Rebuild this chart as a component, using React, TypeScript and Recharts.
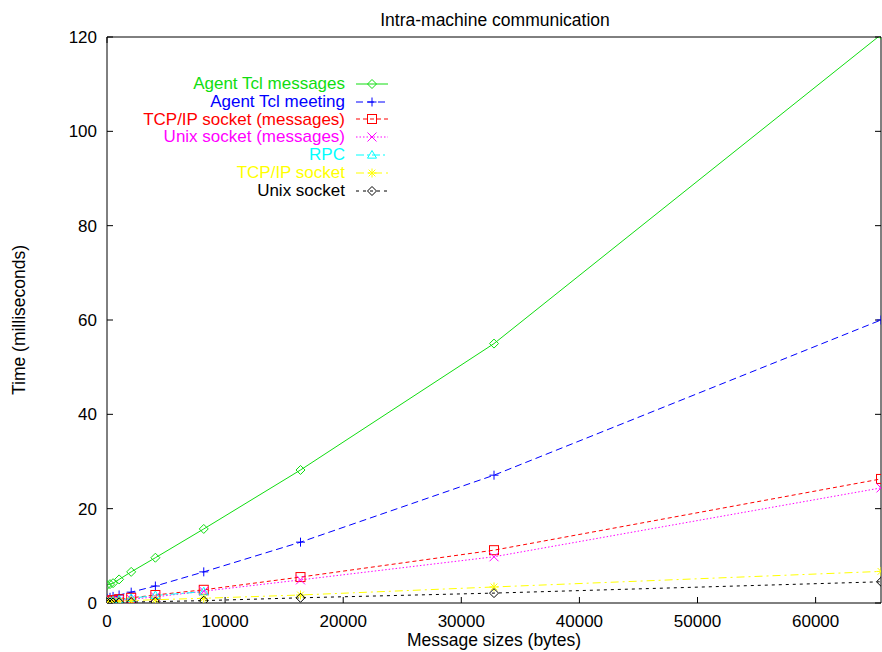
import React from "react";
import { LineChart, Line, XAxis, YAxis, Legend } from "recharts";

// message sizes in bytes
const sizes = [1, 256, 512, 1024, 2048, 4096, 8192, 16384, 32768, 65536];

// times in milliseconds
const agentMessages = [3.8, 4.0, 4.2, 5.0, 6.6, 9.6, 15.7, 28.2, 55.0, 120.5];
const agentMeeting = [1.0, 1.2, 1.4, 1.7, 2.3, 3.6, 6.6, 12.9, 27.1, 60.0];
const tcpMessages = [0.4, 0.5, 0.6, 0.8, 1.1, 1.7, 2.8, 5.5, 11.2, 26.3];
const unixMessages = [0.25, 0.3, 0.4, 0.5, 0.8, 1.3, 2.5, 4.9, 9.8, 24.4];
const rpc = [0.3, 0.4, 0.5, 0.7, 1.0, 1.6, 2.4, null, null, null];
const tcpSocket = [0.3, 0.3, 0.35, 0.4, 0.5, 0.7, 1.0, 1.7, 3.4, 6.7];
const unixSocket = [0.1, 0.1, 0.12, 0.15, 0.2, 0.3, 0.5, 1.1, 2.1, 4.5];

const xTicks = [0, 10000, 20000, 30000, 40000, 50000, 60000];
const yTicks = [0, 20, 40, 60, 80, 100, 120];

const FONT = '"Liberation Sans", Arial, Helvetica, sans-serif';

type Shape = "diamond" | "plus" | "square" | "cross" | "triangle" | "star";

const series: { key: string; name: string; values: (number | null)[]; color: string; dash?: string; shape: Shape }[] = [
  { key: "agentMessages", name: "Agent Tcl messages", values: agentMessages, color: "#10dd10", shape: "diamond" },
  { key: "agentMeeting", name: "Agent Tcl meeting", values: agentMeeting, color: "#0000ff", dash: "7 4", shape: "plus" },
  { key: "tcpMessages", name: "TCP/IP socket (messages)", values: tcpMessages, color: "#ff0000", dash: "4 3", shape: "square" },
  { key: "unixMessages", name: "Unix socket (messages)", values: unixMessages, color: "#ff00ff", dash: "1.5 2", shape: "cross" },
  { key: "rpc", name: "RPC", values: rpc, color: "#00ffff", dash: "8 3 2 3", shape: "triangle" },
  { key: "tcpSocket", name: "TCP/IP socket", values: tcpSocket, color: "#ffff00", dash: "8 4 2 4", shape: "star" },
  { key: "unixSocket", name: "Unix socket", values: unixSocket, color: "#000000", dash: "3 4", shape: "diamond" },
];

const data = sizes.map((size, i) => {
  const row: Record<string, number | null> = { size };
  series.forEach((s) => (row[s.key] = s.values[i]));
  return row;
});

function Marker({ shape, cx, cy, color }: { shape: Shape; cx: number; cy: number; color: string }) {
  const r = 4.5;
  const p = { stroke: color, strokeWidth: 1, fill: "none" };
  switch (shape) {
    case "diamond":
      return <polygon {...p} points={`${cx},${cy - r} ${cx + r},${cy} ${cx},${cy + r} ${cx - r},${cy}`} />;
    case "plus":
      return (
        <g {...p}>
          <line x1={cx - r} y1={cy} x2={cx + r} y2={cy} />
          <line x1={cx} y1={cy - r} x2={cx} y2={cy + r} />
        </g>
      );
    case "square":
      return <rect {...p} x={cx - r} y={cy - r} width={2 * r} height={2 * r} />;
    case "cross":
      return (
        <g {...p}>
          <line x1={cx - r} y1={cy - r} x2={cx + r} y2={cy + r} />
          <line x1={cx - r} y1={cy + r} x2={cx + r} y2={cy - r} />
        </g>
      );
    case "triangle":
      return <polygon {...p} points={`${cx},${cy - r} ${cx + r},${cy + r * 0.7} ${cx - r},${cy + r * 0.7}`} />;
    default:
      return (
        <g {...p}>
          <line x1={cx - r} y1={cy} x2={cx + r} y2={cy} />
          <line x1={cx} y1={cy - r} x2={cx} y2={cy + r} />
          <line x1={cx - r * 0.75} y1={cy - r * 0.75} x2={cx + r * 0.75} y2={cy + r * 0.75} />
          <line x1={cx - r * 0.75} y1={cy + r * 0.75} x2={cx + r * 0.75} y2={cy - r * 0.75} />
        </g>
      );
  }
}

const makeDot = (shape: Shape, color: string) => (props: any) => {
  const { cx, cy, index } = props;
  if (cx == null || cy == null || props.value == null) return <g key={`d-${index}`} />;
  return (
    <g key={`d-${index}`}>
      <Marker shape={shape} cx={cx} cy={cy} color={color} />
    </g>
  );
};

const LegendBox = () => (
  <div style={{ fontFamily: FONT, fontSize: 17 }}>
    {series.map((s) => (
      <div key={s.key} style={{ display: "flex", alignItems: "center", height: 17.8 }}>
        <span style={{ width: 245, textAlign: "right", color: s.color, whiteSpace: "nowrap", lineHeight: "17.8px" }}>
          {s.name}
        </span>
        <svg width={32} height={12} style={{ marginLeft: 11, overflow: "visible" }}>
          <line x1={0} y1={6} x2={32} y2={6} stroke={s.color} strokeWidth={1} strokeDasharray={s.dash} />
          <Marker shape={s.shape} cx={16} cy={6} color={s.color} />
        </svg>
      </div>
    ))}
  </div>
);

const XTitle = ({ viewBox }: any) => (
  <text x={viewBox.x + viewBox.width / 2} y={viewBox.y + 43} textAnchor="middle" fontFamily={FONT} fontSize={17.5} fill="#000">
    Message sizes (bytes)
  </text>
);

const YTitle = ({ viewBox }: any) => {
  const x = 25;
  const y = viewBox.y + viewBox.height / 2;
  return (
    <text x={x} y={y} transform={`rotate(-90 ${x} ${y})`} textAnchor="middle" fontFamily={FONT} fontSize={17.5} fill="#000">
      Time (milliseconds)
    </text>
  );
};

const Title = ({ viewBox }: any) => (
  <text x={viewBox.x + viewBox.width / 2 + 1} y={26} textAnchor="middle" fontFamily={FONT} fontSize={17.5} fill="#000">
    Intra-machine communication
  </text>
);

const tickStyle = { fill: "#000", fontSize: 17, fontFamily: FONT };

export default function App() {
  return (
    <div style={{ width: 882, height: 652, position: "relative", background: "#fff" }}>
      <style>{"body{margin:0}"}</style>
      <LineChart width={882} height={652} data={data} margin={{ top: 36, right: 0, bottom: 0, left: 0 }}>
        <XAxis
          dataKey="size"
          type="number"
          domain={[0, 65536]}
          ticks={xTicks}
          allowDataOverflow
          height={49}
          stroke="#000"
          tickSize={-6}
          tickMargin={18}
          tick={tickStyle}
          label={<XTitle />}
        />
        <XAxis
          xAxisId="top"
          orientation="top"
          type="number"
          domain={[0, 65536]}
          ticks={xTicks}
          allowDataOverflow
          height={1}
          stroke="#000"
          tickSize={-6}
          tick={() => <g />}
          label={<Title />}
        />
        <YAxis
          type="number"
          domain={[0, 120]}
          ticks={yTicks}
          allowDataOverflow
          width={107}
          stroke="#000"
          tickSize={-6}
          tickMargin={16}
          tick={tickStyle}
          label={<YTitle />}
        />
        <YAxis
          yAxisId="right"
          orientation="right"
          type="number"
          domain={[0, 120]}
          ticks={yTicks}
          allowDataOverflow
          width={1}
          stroke="#000"
          tickSize={-6}
          tick={() => <g />}
        />
        <Legend
          layout="vertical"
          align="center"
          verticalAlign="middle"
          content={<LegendBox />}
          wrapperStyle={{ left: 100, top: 75, width: 300, right: "auto", bottom: "auto" }}
        />
        {series.map((s) => (
          <Line
            key={s.key}
            dataKey={s.key}
            name={s.name}
            type="linear"
            stroke={s.color}
            strokeWidth={1}
            strokeDasharray={s.dash}
            dot={makeDot(s.shape, s.color)}
            activeDot={false}
            isAnimationActive={false}
          />
        ))}
      </LineChart>
    </div>
  );
}
